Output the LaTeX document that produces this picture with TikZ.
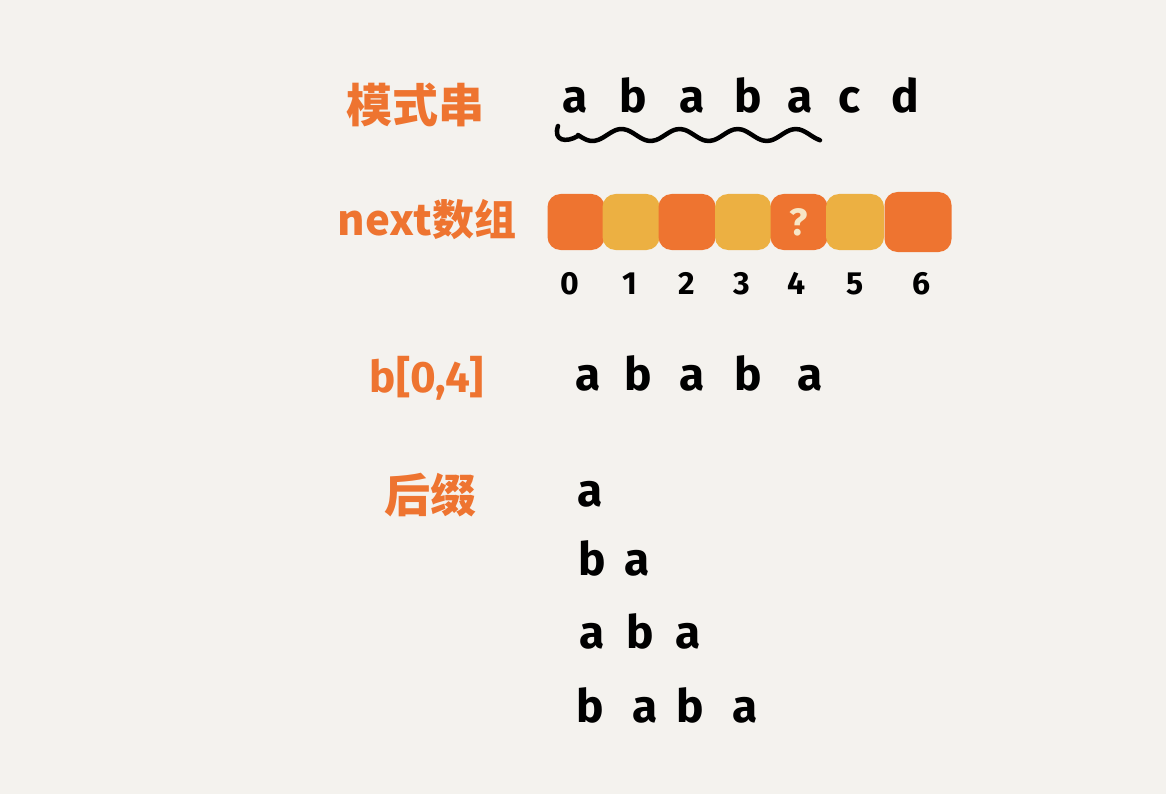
\documentclass[tikz,border=0pt]{standalone}
\usepackage{fontspec}
\setmainfont{Fira Sans}
\newfontfamily\cjk{Noto Sans CJK SC}
\definecolor{bg}{HTML}{F4F2EE}
\definecolor{org}{HTML}{EE7430}
\definecolor{ylw}{HTML}{ECB042}
\definecolor{cream}{HTML}{F7E6C6}
\begin{document}
\begin{tikzpicture}[x=1pt,y=-1pt,
  lbl/.style={text=org,inner sep=0pt,font=\cjk\bfseries\fontsize{46}{50}\selectfont},
  lblL/.style={text=org,inner sep=0pt,font=\bfseries\fontsize{44}{50}\selectfont},
  ch/.style={text=black,inner sep=0pt,anchor=base,font=\bfseries\fontsize{46}{50}\selectfont},
  idx/.style={text=black,inner sep=0pt,anchor=base,font=\bfseries\fontsize{32}{36}\selectfont},
  cell/.style={draw=none,rounded corners=13pt,minimum height=56pt,inner sep=0pt},
  ocell/.style={cell,fill=org},
  ycell/.style={cell,fill=ylw}]
\fill[bg] (0,0) rectangle (1166,794);
\useasboundingbox (0,0) rectangle (1166,794);
% labels
\node[lbl] (l1) at (415,105) {模式串};
\node[lbl] (l2) at (427,220) {\bfseries\fontsize{42}{46}\selectfont next数组};
\node[lblL] (l3) at (427,378) {b[0,4]};
\node[lbl] (l4) at (430,495) {后缀};
% pattern string
\foreach \c/\x [count=\i] in {a/575,b/633,a/692,b/748,a/800,c/850,d/905}
  \node[ch] (p\i) at (\x,113) {\c};
% wavy underline
\draw[line width=4.5pt,line cap=round,line join=round]
  (558,126) .. controls (553,141) and (566,143) .. (578,136)
  plot[smooth,domain=0:242,samples=60] ({578+\x},{135+6*sin(\x*6.2)});
% next array
\node[ocell,minimum width=57pt] (c0) at (576,222) {};
\node[ycell,minimum width=57pt] (c1) at (631,222) {};
\node[ocell,minimum width=57pt] (c2) at (687,222) {};
\node[ycell,minimum width=56pt] (c3) at (743,222) {};
\node[ocell,minimum width=57pt] (c4) at (799,222) {};
\node[ycell,minimum width=58pt] (c5) at (855,222) {};
\node[ocell,minimum width=67pt,minimum height=60pt] (c6) at (918,222) {};
\node[text=cream,inner sep=0pt,font=\bfseries\fontsize{38}{40}\selectfont] (q) at (c4) {?};
\foreach \d/\x in {0/570,1/630,2/687,3/742,4/797,5/855,6/922}
  \node[idx] (i\d) at (\x,294) {\d};
% b[0,4]
\foreach \c/\x [count=\i] in {a/588,b/638,a/692,b/748,a/810}
  \node[ch] (s\i) at (\x,390) {\c};
% suffixes
\node[ch] (r1a) at (590,506) {a};
\foreach \c/\x [count=\i] in {b/592,a/637}
  \node[ch] (r2\i) at (\x,575) {\c};
\foreach \c/\x [count=\i] in {a/592,b/640,a/688}
  \node[ch] (r3\i) at (\x,648) {\c};
\foreach \c/\x [count=\i] in {b/590,a/645,b/690,a/745}
  \node[ch] (r4\i) at (\x,722) {\c};
\end{tikzpicture}
\end{document}
